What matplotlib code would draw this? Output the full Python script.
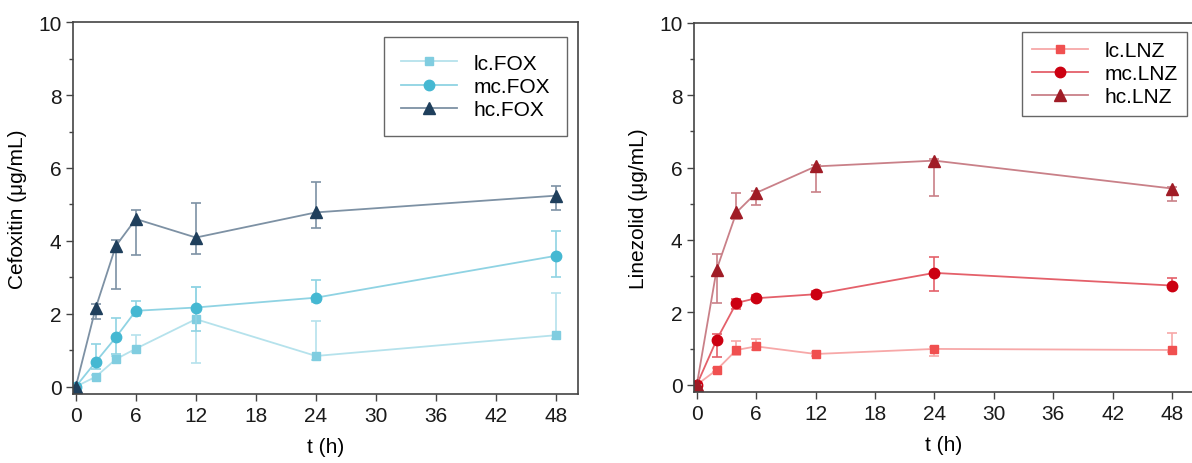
import numpy as np
import matplotlib
matplotlib.use("Agg")
import matplotlib.pyplot as plt

plt.rcParams['font.family'] = ['Liberation Sans', 'DejaVu Sans']
plt.rcParams['font.size'] = 14

# время отбора проб, ч
t = [0, 2, 4, 6, 12, 24, 48]

# Cefoxitin
fox_labels = ['lc.FOX', 'mc.FOX', 'hc.FOX']
lc_fox = [0, 0.27, 0.75, 1.04, 1.85, 0.84, 1.41]
lc_fox_lo = [0, 0.05, 0.1, 0.1, 1.21, 0.1, 0.1]
lc_fox_hi = [0, 0.05, 0.1, 0.37, 0.87, 0.96, 1.15]
mc_fox = [0, 0.68, 1.35, 2.08, 2.17, 2.44, 3.59]
mc_fox_lo = [0, 0.2, 0.46, 0.14, 0.64, 0.13, 0.59]
mc_fox_hi = [0, 0.48, 0.52, 0.27, 0.55, 0.49, 0.67]
hc_fox = [0, 2.17, 3.86, 4.60, 4.09, 4.78, 5.24]
hc_fox_lo = [0, 0.32, 1.17, 0.99, 0.45, 0.43, 0.40]
hc_fox_hi = [0, 0.1, 0.17, 0.25, 0.94, 0.84, 0.27]

# Linezolid
lnz_labels = ['lc.LNZ', 'mc.LNZ', 'hc.LNZ']
lc_lnz = [0, 0.41, 0.96, 1.06, 0.85, 0.99, 0.96]
lc_lnz_lo = [0, 0.05, 0.14, 0.1, 0.05, 0.19, 0.05]
lc_lnz_hi = [0, 0.05, 0.26, 0.20, 0.05, 0.05, 0.47]
mc_lnz = [0, 1.24, 2.26, 2.39, 2.50, 3.09, 2.74]
mc_lnz_lo = [0, 0.48, 0.16, 0.08, 0.08, 0.49, 0.05]
mc_lnz_hi = [0, 0.16, 0.1, 0.08, 0.08, 0.43, 0.21]
hc_lnz = [0, 3.18, 4.76, 5.30, 6.03, 6.19, 5.42]
hc_lnz_lo = [0, 0.92, 0.18, 0.34, 0.72, 0.97, 0.35]
hc_lnz_hi = [0, 0.43, 0.53, 0.05, 0.05, 0.05, 0.05]

fox_colors = ['#80cde0', '#45b8d2', '#1f3f5c']
fox_light = ['#b5e2ec', '#8fd3e3', '#7d91a4']
lnz_colors = ['#f05050', '#cc0011', '#a01c26']
lnz_light = ['#f7a8a8', '#e4606a', '#c98088']
markers = ['s', 'o', '^']
msizes = [6, 7.5, 8]

fig = plt.figure(figsize=(11.92, 4.64), dpi=100)
ax1 = fig.add_axes([0.0615, 0.149, 0.4235, 0.801])
ax2 = fig.add_axes([0.5825, 0.153, 0.419, 0.796])


def panel(ax, series, labels, colors, light, ylabel):
    handles = []
    for (y, lo, hi), lab, c, lc, m, ms in zip(series, labels, colors, light, markers, msizes):
        ax.errorbar(t, y, yerr=[lo, hi], fmt='none', ecolor=lc, elinewidth=1.2,
                     capsize=3.5, capthick=1.2)
        h, = ax.plot(t, y, color=lc, lw=1.3, marker=m, ms=ms,
                     mfc=c, mec=c, label=lab)
        handles.append(h)
    ax.set_xlim(-0.25, 50.2)
    ax.set_ylim(-0.2, 10)
    ax.set_xticks(np.arange(0, 49, 6))
    ax.set_yticks(np.arange(0, 11, 2))
    ax.set_yticks(np.arange(1, 10, 2), minor=True)
    ax.tick_params(direction='out', length=5, width=1, color='#444444',
                   labelsize=15, labelcolor='#1a1a1a')
    ax.tick_params(which='minor', direction='out', length=3, width=1, color='#444444')
    for s in ax.spines.values():
        s.set_color('#444444')
        s.set_linewidth(1.2)
    ax.set_xlabel('t (h)', labelpad=9, fontsize=15)
    ax.set_ylabel(ylabel, labelpad=8, fontsize=15)
    return handles


h1 = panel(ax1, [(lc_fox, lc_fox_lo, lc_fox_hi), (mc_fox, mc_fox_lo, mc_fox_hi),
                 (hc_fox, hc_fox_lo, hc_fox_hi)],
           fox_labels, fox_colors, fox_light, 'Cefoxitin (μg/mL)')
h2 = panel(ax2, [(lc_lnz, lc_lnz_lo, lc_lnz_hi), (mc_lnz, mc_lnz_lo, mc_lnz_hi),
                 (hc_lnz, hc_lnz_lo, hc_lnz_hi)],
           lnz_labels, lnz_colors, lnz_light, 'Linezolid (μg/mL)')

leg1 = ax1.legend(handles=h1, loc='upper right', bbox_to_anchor=(0.978, 0.96),
                  borderaxespad=0, fancybox=False, edgecolor='#666666', framealpha=1,
                  handlelength=2.7, borderpad=0.8, labelspacing=0.2, fontsize=15)
leg2 = ax2.legend(handles=h2, loc='upper right', bbox_to_anchor=(0.987, 0.976),
                  borderaxespad=0, fancybox=False, edgecolor='#666666', framealpha=1,
                  handlelength=2.7, borderpad=0.45, labelspacing=0.2, fontsize=15)

fig.savefig('out.png', dpi=100)
